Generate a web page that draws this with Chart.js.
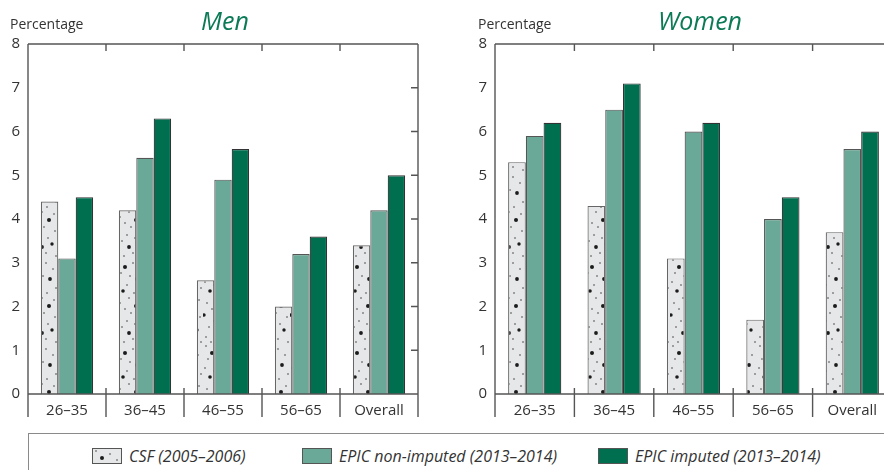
<!DOCTYPE html>
<html>
<head>
<meta charset="utf-8">
<script src="https://cdn.jsdelivr.net/npm/chart.js@4"></script>
<style>
  body { margin: 0; width: 884px; height: 470px; overflow: hidden; background: #fff; position: relative; font-family: 'Open Sans', sans-serif; }
  canvas { position: absolute; top: 0; }
  #menChart { left: 0; }
  #womenChart { left: 467px; }
  #legend { position: absolute; left: 28px; top: 433px; width: 900px; height: 60px; border: 1.5px solid #8a8a8a; border-right: none; box-sizing: border-box; }
  .item { position: absolute; top: 11px; display: flex; align-items: center; font-style: italic; font-size: 16px; color: #333; }
  .sw { width: 30px; height: 16px; border: 1.2px solid #555; margin-right: 7px; box-sizing: border-box; flex: none; }
</style>
</head>
<body>
<canvas id="menChart" width="442" height="430"></canvas>
<canvas id="womenChart" width="425" height="430"></canvas>
<div id="legend"></div>
<script>
// Dados
const ageGroups = ['26–35', '36–45', '46–55', '56–65', 'Overall'];
const seriesNames = ['CSF (2005–2006)', 'EPIC non-imputed (2013–2014)', 'EPIC imputed (2013–2014)'];
const menCSF = [4.4, 4.2, 2.6, 2.0, 3.4];
const menNonImputed = [3.1, 5.4, 4.9, 3.2, 4.2];
const menImputed = [4.5, 6.3, 5.6, 3.6, 5.0];
const womenCSF = [5.3, 4.3, 3.1, 1.7, 3.7];
const womenNonImputed = [5.9, 6.5, 6.0, 4.0, 5.6];
const womenImputed = [6.2, 7.1, 6.2, 4.5, 6.0];
const yMin = 0, yMax = 8, yStep = 1;

// Cores
const corCSF = '#e6e7e8';
const corNonImp = '#6aa897';
const corImp = '#006f50';
const corTitulo = '#0b7a57';

// Padrão pontilhado para a série CSF
function criarTileDots() {
    const c = document.createElement('canvas');
    c.width = 29; c.height = 86;
    const g = c.getContext('2d');
    g.fillStyle = corCSF;
    g.fillRect(0, 0, c.width, c.height);
    g.fillStyle = '#1c1c1c';
    const dots = [
        [3, 2, 0.7], [17, 5, 0.7], [9, 9, 2.0], [24, 11, 0.7], [5, 15, 0.7],
        [14, 18, 0.7], [21, 21, 1.9], [2, 24, 0.7], [11, 27, 0.7], [27, 30, 0.7],
        [7, 33, 1.8], [18, 35, 0.7], [13, 40, 0.7], [25, 42, 0.7], [4, 45, 0.7],
        [20, 48, 2.0], [9, 51, 0.7], [15, 55, 0.7], [1, 57, 1.7], [26, 59, 0.7],
        [11, 63, 0.7], [19, 66, 0.7], [6, 69, 0.7], [23, 72, 1.7], [13, 75, 1.9],
        [3, 79, 0.7], [17, 81, 0.7], [27, 84, 0.7], [8, 84, 0.7]
    ];
    dots.forEach(d => { g.beginPath(); g.arc(d[0], d[1], d[2], 0, Math.PI * 2); g.fill(); });
    return c;
}
const tileDots = criarTileDots();

// Moldura, marcas e textos de cada painel
const framePlugin = {
    id: 'frame',
    afterDraw(chart, args, opts) {
        const ctx = chart.ctx;
        const a = chart.chartArea;
        ctx.save();
        ctx.strokeStyle = '#555';
        ctx.lineWidth = 1.4;
        ctx.beginPath();
        ctx.moveTo(a.left, a.top); ctx.lineTo(a.left, a.bottom + 23);
        ctx.moveTo(a.right, a.top); ctx.lineTo(a.right, a.bottom + 23);
        ctx.moveTo(a.left, a.top); ctx.lineTo(a.right, a.top);
        ctx.moveTo(a.left, a.bottom); ctx.lineTo(a.right, a.bottom);
        const n = ageGroups.length;
        const w = (a.right - a.left) / n;
        for (let i = 1; i < n; i++) {
            const xx = a.left + w * i;
            ctx.moveTo(xx, a.top); ctx.lineTo(xx, a.top + 7);
            ctx.moveTo(xx, a.bottom - 6); ctx.lineTo(xx, a.bottom + 23);
        }
        const y = chart.scales.y;
        for (let v = yMin + yStep; v < yMax; v += yStep) {
            const yy = y.getPixelForValue(v);
            ctx.moveTo(a.right - 7, yy); ctx.lineTo(a.right, yy);
        }
        ctx.stroke();

        ctx.fillStyle = '#333';
        ctx.font = '14px "Open Sans"';
        ctx.textBaseline = 'middle';
        ctx.textAlign = 'left';
        ctx.fillText('Percentage', opts.labelX, 25);
        ctx.fillStyle = corTitulo;
        ctx.font = 'italic 25px "Open Sans"';
        ctx.textAlign = 'center';
        ctx.fillText(opts.title, opts.titleX, 23);
        ctx.restore();
    }
};

function criarPainel(id, csf, nonImp, imp, title, titleX, labelX, padRight) {
    const ctx = document.getElementById(id).getContext('2d');
    const pattern = ctx.createPattern(tileDots, 'repeat');
    return new Chart(ctx, {
        type: 'bar',
        data: {
            labels: ageGroups,
            datasets: [
                { label: seriesNames[0], data: csf, backgroundColor: pattern, borderColor: '#666', borderWidth: 1.2 },
                { label: seriesNames[1], data: nonImp, backgroundColor: corNonImp, borderColor: '#555', borderWidth: 1.2 },
                { label: seriesNames[2], data: imp, backgroundColor: corImp, borderColor: '#333', borderWidth: 1.2 }
            ]
        },
        options: {
            responsive: false,
            animation: false,
            layout: { padding: { top: 44, right: padRight, left: 0, bottom: 0 } },
            datasets: { bar: { categoryPercentage: 0.67, barPercentage: 1.0 } },
            plugins: {
                legend: { display: false },
                tooltip: { enabled: false },
                frame: { title: title, titleX: titleX, labelX: labelX }
            },
            scales: {
                x: {
                    grid: { display: false, drawTicks: false },
                    border: { display: false },
                    ticks: { color: '#333', font: { family: 'Open Sans', size: 15 }, padding: 8 },
                    afterFit: s => { s.height = 36; }
                },
                y: {
                    min: yMin, max: yMax,
                    grid: { display: false, drawTicks: false },
                    border: { display: false },
                    ticks: { stepSize: yStep, color: '#333', font: { family: 'Open Sans', size: 15 }, padding: 8 },
                    afterFit: s => { s.width = 28; }
                }
            }
        },
        plugins: [framePlugin]
    });
}

criarPainel('menChart', menCSF, menNonImputed, menImputed, 'Men', 225, 10, 24);
criarPainel('womenChart', womenCSF, womenNonImputed, womenImputed, 'Women', 233, 11, 0);

// Legenda
const legend = document.getElementById('legend');
const legendX = [63, 273, 569];
const swatchFill = ['url(' + tileDots.toDataURL() + ')', corNonImp, corImp];
seriesNames.forEach((name, i) => {
    const it = document.createElement('div');
    it.className = 'item';
    it.style.left = legendX[i] + 'px';
    const sw = document.createElement('span');
    sw.className = 'sw';
    sw.style.background = swatchFill[i];
    const tx = document.createElement('span');
    tx.textContent = name;
    it.appendChild(sw);
    it.appendChild(tx);
    legend.appendChild(it);
});
</script>
</body>
</html>
